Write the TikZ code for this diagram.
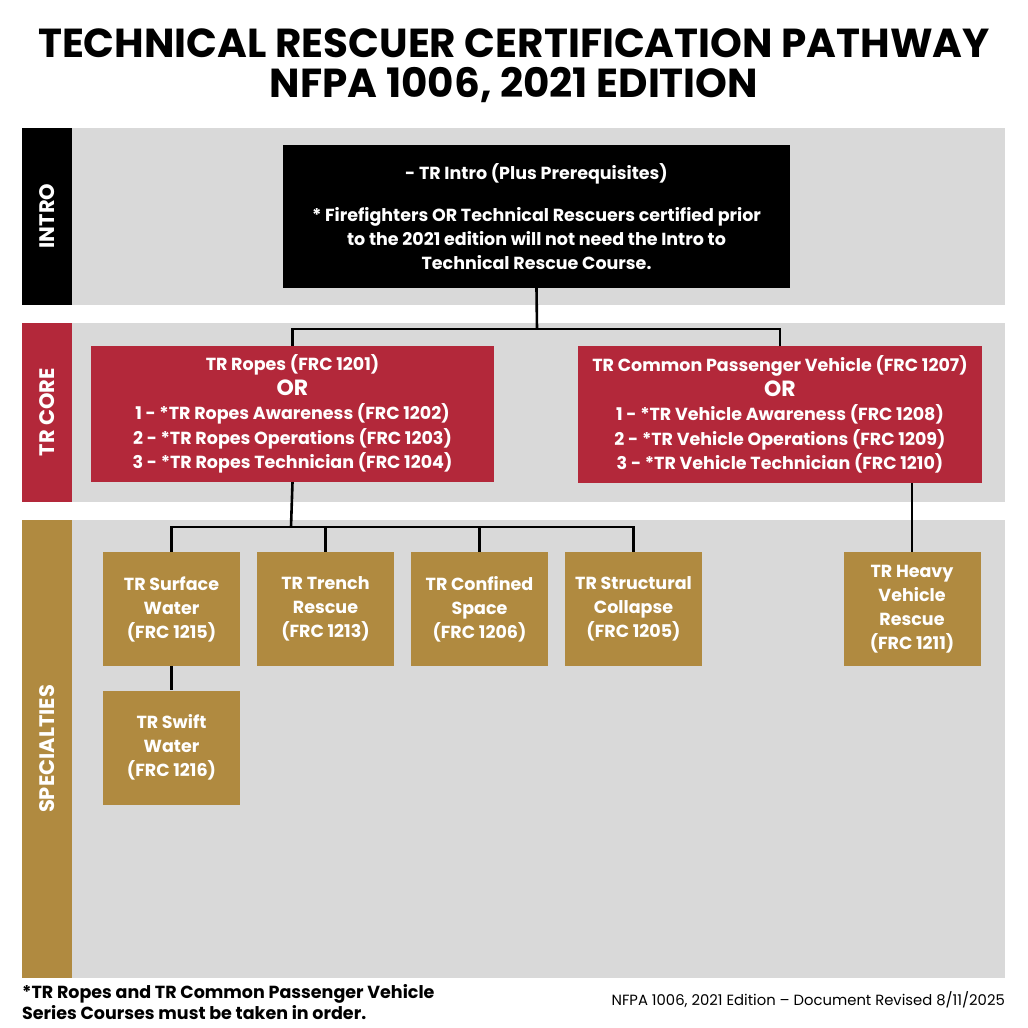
\documentclass[tikz,border=0pt]{standalone}
\usepackage{fontspec}
\setmainfont{Poppins}
\usetikzlibrary{positioning}
\definecolor{trred}{HTML}{B3283A}
\definecolor{trgold}{HTML}{B08A40}
\definecolor{trgray}{HTML}{D9D9D9}
\tikzset{
  band/.style={fill=trgray, draw=none},
  side/.style={draw=none, text=white, font=\bfseries\fontsize{21}{24}\selectfont, rotate=90},
  corebox/.style={fill=trred, text=white, align=center, font=\bfseries\fontsize{17.5}{24.5}\selectfont},
  specbox/.style={fill=trgold, text=white, align=center, minimum width=137pt, minimum height=114pt, inner sep=2pt, font=\bfseries\fontsize{17.5}{24}\selectfont},
  link/.style={line width=2.6pt}
}
\begin{document}
\begin{tikzpicture}[x=1pt,y=-1pt]
\useasboundingbox (0,0) rectangle (1028,1028);

% title
\node(T1) at (514,43) {\bfseries\fontsize{40.5}{44}\selectfont TECHNICAL RESCUER CERTIFICATION PATHWAY};
\node(T2) at (514,85) {\bfseries\fontsize{40.5}{44}\selectfont NFPA 1006, 2021 EDITION};

% bands
\fill[trgray] (72,128) rectangle (1005,305);
\fill[trgray] (72,323) rectangle (1005,502);
\fill[trgray] (72,520) rectangle (1005,978);
\fill[black] (22,128) rectangle (72,305);
\fill[trred] (22,323) rectangle (72,502);
\fill[trgold] (22,520) rectangle (72,978);
\node[side](SI) at (47,216) {INTRO};
\node[side](SC) at (47,412) {TR CORE};
\node[side](SS) at (47,749) {SPECIALTIES};

% intro
\node[fill=black, text=white, align=center, minimum width=507pt, minimum height=143pt,
  font=\bfseries\fontsize{17.5}{24}\selectfont](intro) at (536.5,216.5)
  {- TR Intro (Plus Prerequisites)\\[18pt]
   * Firefighters OR Technical Rescuers certified prior\\
   to the 2021 edition will not need the Intro to\\
   Technical Rescue Course.};

% core
\node[corebox, minimum width=403pt, minimum height=136pt](ropes) at (292.5,414)
  {TR Ropes (FRC 1201)\\{\fontsize{22}{24}\selectfont OR}\\
   1 - *TR Ropes Awareness (FRC 1202)\\
   2 - *TR Ropes Operations (FRC 1203)\\
   3 - *TR Ropes Technician (FRC 1204)};
\node[corebox, minimum width=404pt, minimum height=137pt](vehicle) at (780,414.5)
  {TR Common Passenger Vehicle (FRC 1207)\\{\fontsize{22}{24}\selectfont OR}\\
   1 - *TR Vehicle Awareness (FRC 1208)\\
   2 - *TR Vehicle Operations (FRC 1209)\\
   3 - *TR Vehicle Technician (FRC 1210)};

% specialties
\node[specbox](surface) at (171.5,609) {TR Surface\\Water\\(FRC 1215)};
\node[specbox](trench) at (325.5,609) {TR Trench\\Rescue\\(FRC 1213)};
\node[specbox](confined) at (479.5,609) {TR Confined\\Space\\(FRC 1206)};
\node[specbox](collapse) at (633.5,609) {TR Structural\\Collapse\\(FRC 1205)};
\node[specbox](heavy) at (912,609) {TR Heavy\\Vehicle\\Rescue\\(FRC 1211)};
\node[specbox](swift) at (171.5,747.5) {TR Swift\\Water\\(FRC 1216)};

% connectors
\coordinate(jI) at (537,329);
\draw[link] (intro.south) -- (jI);
\draw[link] (ropes.north) |- (jI) -| (vehicle.north);
\coordinate(jR) at (291,527);
\draw[link] (ropes.south) -- (jR);
\draw[link] (surface.north) |- (jR);
\draw[link] (collapse.north) |- (jR);
\draw[link] (trench.north) -- (trench.north |- jR);
\draw[link] (confined.north) -- (confined.north |- jR);
\draw[link] (heavy.north |- vehicle.south) -- (heavy.north);
\draw[link] (surface.south) -- (swift.north);

% footer
\node[anchor=north west, align=left, inner sep=0pt, font=\bfseries\fontsize{17.5}{21}\selectfont](F1) at (22,984)
  {*TR Ropes and TR Common Passenger Vehicle\\Series Courses must be taken in order.};
\node[anchor=east, inner sep=0pt, font=\fontsize{14.8}{16}\selectfont](F2) at (1005,1000)
  {NFPA 1006, 2021 Edition – Document Revised 8/11/2025};
\end{tikzpicture}
\end{document}
